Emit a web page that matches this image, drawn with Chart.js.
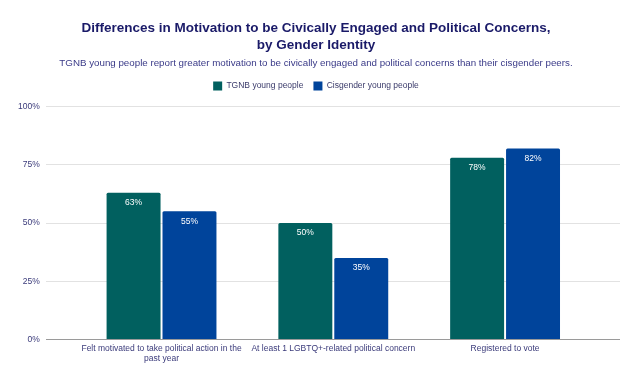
<!DOCTYPE html>
<html>
<head>
<meta charset="utf-8">
<script src="https://cdn.jsdelivr.net/npm/chart.js@4"></script>
<style>
  body { margin: 0; background: #fff; }
</style>
</head>
<body>
<canvas id="chart" width="640" height="382"></canvas>
<script>
const categories = [
    ['Felt motivated to take political action in the', 'past year'],
    'At least 1 LGBTQ+-related political concern',
    'Registered to vote'
];
const tgnbValues = [63, 50, 78];
const cisValues = [55, 35, 82];
const yTicks = [0, 25, 50, 75, 100];

const FONT = "'Liberation Sans', Arial, sans-serif";

// white % labels inside the top of each bar
const barLabels = {
    id: 'barLabels',
    afterDatasetsDraw(chart) {
        const ctx = chart.ctx;
        ctx.save();
        ctx.font = '8.5px ' + FONT;
        ctx.fillStyle = '#ffffff';
        ctx.textAlign = 'center';
        ctx.textBaseline = 'middle';
        chart.data.datasets.forEach((ds, i) => {
            chart.getDatasetMeta(i).data.forEach((bar, j) => {
                ctx.fillText(ds.data[j].y + '%', bar.x, bar.y + 10);
            });
        });
        ctx.restore();
    }
};

// extra room under the legend
const legendGap = {
    id: 'legendGap',
    beforeInit(chart) {
        const fit = chart.legend.fit;
        chart.legend.fit = function () {
            fit.call(this);
            this.height += 6;
        };
    }
};

const toPoints = (arr) => arr.map((v, i) => ({ x: i, y: v }));

new Chart(document.getElementById('chart').getContext('2d'), {
    type: 'bar',
    data: {
        datasets: [{
            label: 'TGNB young people',
            data: toPoints(tgnbValues),
            backgroundColor: '#01605f',
            borderRadius: 1.5,
            borderSkipped: 'bottom',
            categoryPercentage: 0.651,
            barPercentage: 0.965
        }, {
            label: 'Cisgender young people',
            data: toPoints(cisValues),
            backgroundColor: '#00449b',
            borderRadius: 1.5,
            borderSkipped: 'bottom',
            categoryPercentage: 0.651,
            barPercentage: 0.965
        }]
    },
    options: {
        responsive: false,
        animation: false,
        layout: { padding: { left: 12, right: 20, top: 14, bottom: 14 } },
        plugins: {
            title: {
                display: true,
                text: ['Differences in Motivation to be Civically Engaged and Political Concerns,', 'by Gender Identity'],
                color: '#1a1a68',
                font: { family: FONT, size: 13.5, weight: 'bold', lineHeight: 1.25 },
                padding: { top: 6, bottom: 4 }
            },
            subtitle: {
                display: true,
                text: 'TGNB young people report greater motivation to be civically engaged and political concerns than their cisgender peers.',
                color: '#3a3a88',
                font: { family: FONT, size: 9.75 },
                padding: { bottom: 2 }
            },
            legend: {
                position: 'top',
                labels: {
                    boxWidth: 9,
                    boxHeight: 9,
                    color: '#3a3a6a',
                    font: { family: FONT, size: 8.5 },
                    padding: 10
                }
            },
            tooltip: { enabled: false }
        },
        scales: {
            x: {
                type: 'linear',
                offset: false,
                min: -0.674,
                max: 2.669,
                afterBuildTicks: (axis) => {
                    axis.ticks = categories.map((c, i) => ({ value: i }));
                },
                ticks: {
                    autoSkip: false,
                    maxRotation: 0,
                    color: '#3a3a7a',
                    font: { family: FONT, size: 8.5, lineHeight: 1.2 },
                    padding: 4,
                    callback: (v) => categories[v]
                },
                grid: { display: false, drawTicks: false },
                border: { display: false }
            },
            y: {
                min: 0,
                max: 100,
                afterBuildTicks: (axis) => {
                    axis.ticks = yTicks.map(v => ({ value: v }));
                },
                ticks: {
                    color: '#3a3a7a',
                    font: { family: FONT, size: 8.5 },
                    padding: 6,
                    callback: (v) => v + '%'
                },
                grid: {
                    drawTicks: false,
                    color: (c) => c.tick.value === 0 ? '#9a9a9a' : '#e2e2e2'
                },
                border: { display: false }
            }
        }
    },
    plugins: [barLabels, legendGap]
});
</script>
</body>
</html>
